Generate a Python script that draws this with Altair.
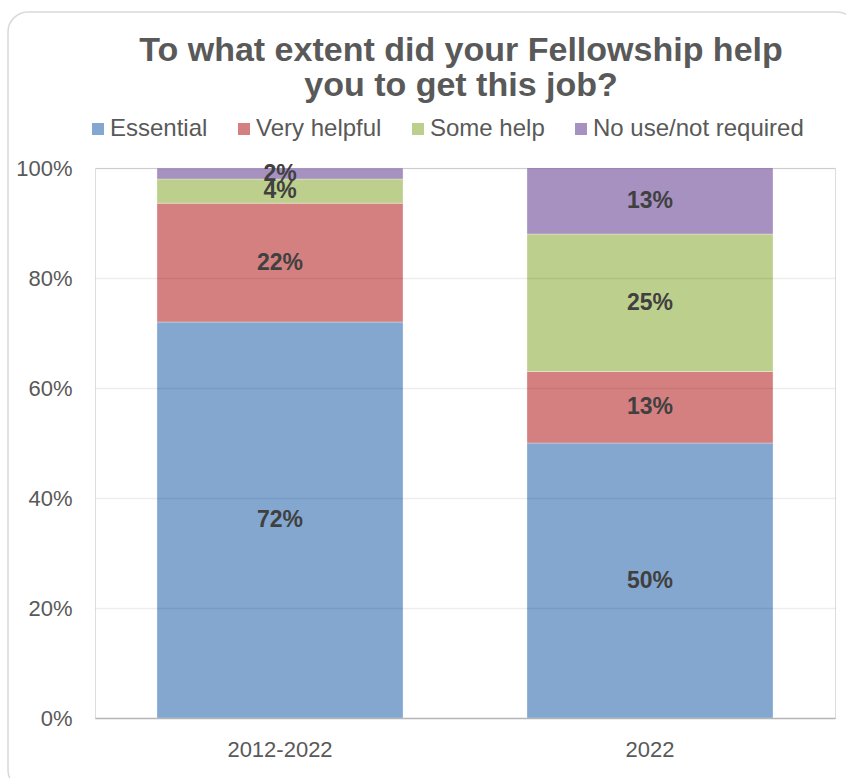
import altair as alt
import pandas as pd

periods = ["2012-2022", "2022"]
categories = ["Essential", "Very helpful", "Some help", "No use/not required"]
essential = [0.72, 0.50]
very_helpful = [0.216, 0.13]
some_help = [0.044, 0.25]
no_use = [0.02, 0.13]
colors = ["#84A7D0", "#D48080", "#BDCF8C", "#A691C0"]
y_ticks = [0, 0.2, 0.4, 0.6, 0.8, 1.0]
title_lines = ["To what extent did your Fellowship help", "you to get this job?"]

rows = []
for k, (series, vals) in enumerate(zip(categories, [essential, very_helpful, some_help, no_use])):
    for p, v in zip(periods, vals):
        rows.append({"period": p, "category": series, "value": v, "order": k})
df = pd.DataFrame(rows)

FONT = "Liberation Sans"

base = (
    alt.Chart(df)
    .transform_stack(stack="value", as_=["v0", "v1"], groupby=["period"],
                     sort=[alt.SortField("order", order="ascending")])
    .transform_calculate(
        mid="(datum.v0 + min(datum.v1, 1)) / 2",
        label="format(datum.value, '.0%')",
    )
)

xenc = alt.X(
    "period:N", sort=periods, title=None,
    scale=alt.Scale(paddingInner=0.335, paddingOuter=0.1675),
    axis=alt.Axis(labelFontSize=22, labelColor="#595959", labelFont=FONT, labelAngle=0,
                  ticks=False, labelPadding=21, domainColor="#c4c4c4", domainWidth=1.5,
                  grid=False),
)

bars = base.mark_bar(clip=True, stroke="white", strokeWidth=0.5, strokeOpacity=0.6).encode(
    x=xenc,
    y=alt.Y("v0:Q", title=None, scale=alt.Scale(domain=[0, 1], nice=False),
            axis=alt.Axis(values=y_ticks, format=".0%", labelFontSize=22, labelColor="#595959",
                          labelFont=FONT, ticks=False, domain=False, labelPadding=23,
                          gridColor="#000000", gridOpacity=0.07, gridWidth=1.5, zindex=1)),
    y2="v1:Q",
    color=alt.Color(
        "category:N",
        scale=alt.Scale(domain=categories, range=colors),
        legend=alt.Legend(
            title=None, orient="none", direction="horizontal", legendX=-9, legendY=-51,
            symbolType="square", symbolSize=144, symbolStrokeWidth=0, symbolOpacity=1,
            labelFontSize=24, labelFont=FONT, labelColor="#595959", labelOffset=0,
            columnPadding=24, labelLimit=400,
        ),
    ),
    order=alt.Order("order:Q"),
)

texts = base.mark_text(font=FONT, fontSize=23, fontWeight="bold", color="#404040").encode(
    x=alt.X("period:N", sort=periods),
    y=alt.Y("mid:Q"),
    text="label:N",
)

frame = alt.Chart(pd.DataFrame({"f": [0]})).mark_rect(
    fillOpacity=0, stroke="#d9d9d9", strokeWidth=1.5, cornerRadius=20
).encode(x=alt.value(-87), x2=alt.value(762), y=alt.value(-156), y2=alt.value(622))

chart = (
    alt.layer(frame, bars, texts)
    .properties(
        width=740, height=550,
        autosize=alt.AutoSizeParams(type="none"),
        padding={"left": 95, "top": 168, "right": 11, "bottom": 60},
        title=alt.TitleParams(text=title_lines, fontSize=34, font=FONT, fontWeight="bold",
                              color="#595959", anchor="middle", lineHeight=35, dx=-4, offset=-92),
    )
    .configure_view(stroke=None)
    .configure(background="white")
)

chart.save("out.html", embed_options={"renderer": "svg", "actions": False})
